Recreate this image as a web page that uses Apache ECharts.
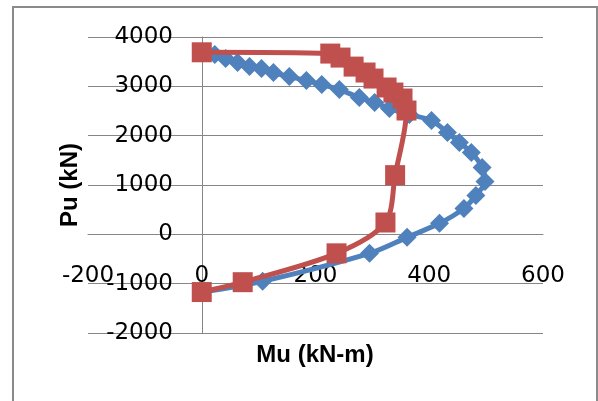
<!DOCTYPE html>
<html>
<head>
<meta charset="utf-8">
<script src="https://cdn.jsdelivr.net/npm/echarts@6/dist/echarts.min.js"></script>
<style>
html,body{margin:0;padding:0;background:#fff;overflow:hidden;}
#c{width:598px;height:401px;}
</style>
</head>
<body>
<div id="c"></div>
<script>
// Data
const xTitle = "Mu (kN-m)";
const yTitle = "Pu (kN)";

const blueMu = [0, 23, 42, 63, 84, 105, 126, 154, 184, 211, 242, 277, 304, 330, 365, 404, 432, 453, 474, 493, 498, 482, 461, 418, 361, 295, 107, 0];
const bluePu = [3690, 3643, 3562, 3481, 3400, 3360, 3279, 3198, 3117, 3036, 2935, 2773, 2672, 2550, 2429, 2307, 2064, 1862, 1660, 1356, 1073, 789, 526, 223, -61, -385, -951, -1174];

const redMu = [0, 226, 244, 267, 288, 302, 325, 337, 353, 360, 340, 323, 237, 72, 0];
const redPu = [3690, 3664, 3583, 3400, 3280, 3158, 2976, 2874, 2753, 2510, 1200, 240, -385, -970, -1170];

const blueData = blueMu.map((m, i) => [m, bluePu[i]]);
const redData = redMu.map((m, i) => [m, redPu[i]]);

const chart = echarts.init(document.getElementById('c'), null, {renderer: 'canvas'});
const tickFont = {fontFamily: 'DejaVu Sans', fontSize: 23, color: '#000', formatter: v => String(v)};
chart.setOption({
  animation: false,
  backgroundColor: '#fff',
  grid: {left: 88, right: 55, top: 37, bottom: 68, containLabel: false, outerBoundsMode: 'none'},
  xAxis: {
    type: 'value', min: -200, max: 600, interval: 200,
    position: 'bottom', offset: -99,
    axisLine: {show: true, onZero: false, lineStyle: {color: '#868686', width: 1}},
    axisTick: {show: false},
    splitLine: {show: false},
    axisLabel: Object.assign({margin: 31, hideOverlap: false}, tickFont)
  },
  yAxis: {
    type: 'value', min: -2000, max: 4000, interval: 1000,
    position: 'left', offset: -114,
    axisLine: {show: true, onZero: false, lineStyle: {color: '#868686', width: 1}},
    axisTick: {show: false},
    splitLine: {show: true, lineStyle: {color: '#868686', width: 1}},
    axisLabel: Object.assign({margin: 29, hideOverlap: false}, tickFont)
  },
  graphic: [
    {type: 'polyline', shape: {points: [[13, 401], [13, 7], [597, 7], [597, 401]]},
     style: {fill: null, stroke: '#8a8a8a', lineWidth: 2}, z: -1, silent: true},
    {type: 'text', x: 70, y: 185, rotation: Math.PI / 2,
     style: {text: yTitle, font: 'bold 24px "Liberation Sans"', fill: '#000', textAlign: 'center', textVerticalAlign: 'middle'}},
    {type: 'text', x: 315, y: 355,
     style: {text: xTitle, font: 'bold 24px "Liberation Sans"', fill: '#000', textAlign: 'center', textVerticalAlign: 'middle'}}
  ],
  series: [
    {
      type: 'line', data: blueData, smooth: 0.3,
      symbol: 'diamond', symbolSize: 19,
      lineStyle: {color: '#4F81BD', width: 5},
      itemStyle: {color: '#4F81BD'},
      z: 3
    },
    {
      type: 'line', data: redData, smooth: 0.3,
      symbol: 'rect', symbolSize: 20,
      lineStyle: {color: '#C0504D', width: 5},
      itemStyle: {color: '#C0504D'},
      z: 4
    }
  ]
});
</script>
</body>
</html>
